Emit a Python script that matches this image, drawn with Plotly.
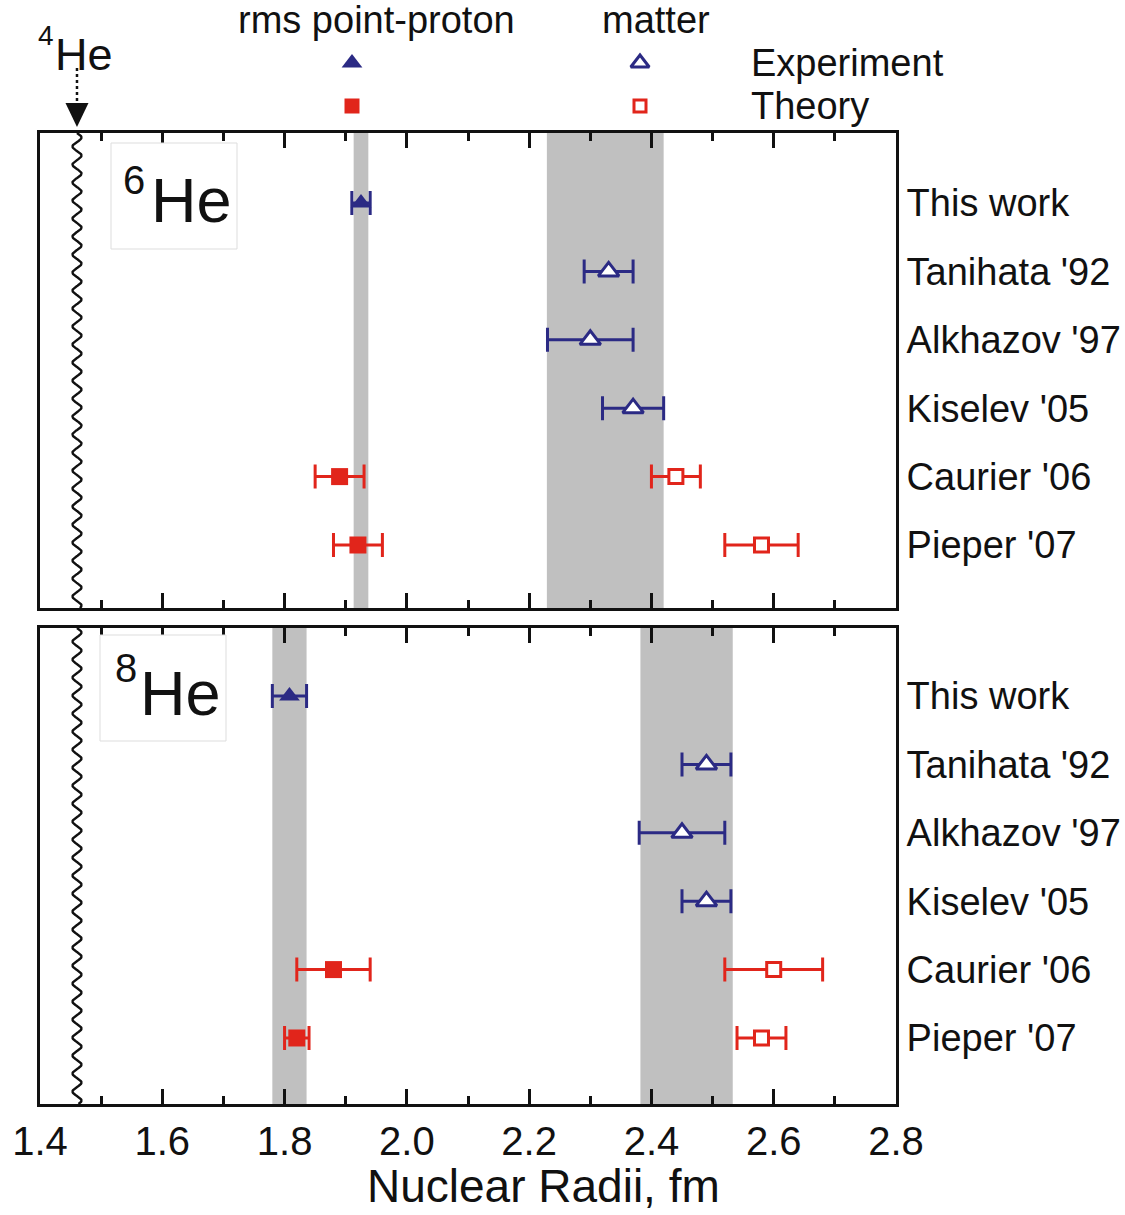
import numpy as np
import plotly.graph_objects as go

# ---------------- data ----------------
rows = ["This work", "Tanihata '92", "Alkhazov '97", "Kiselev '05", "Caurier '06", "Pieper '07"]

# 6He
he6_pp_exp_row = [0]
he6_pp_exp_val = [1.925]
he6_pp_exp_err = [0.015]
he6_m_exp_row = [1, 2, 3]
he6_m_exp_val = [2.33, 2.30, 2.37]
he6_m_exp_err = [0.04, 0.07, 0.05]
he6_pp_th_row = [4, 5]
he6_pp_th_val = [1.89, 1.92]
he6_pp_th_err = [0.04, 0.04]
he6_m_th_row = [4, 5]
he6_m_th_val = [2.44, 2.58]
he6_m_th_err = [0.04, 0.06]
he6_pp_band = [1.913, 1.937]
he6_m_band = [2.229, 2.420]

# 8He
he8_pp_exp_row = [0]
he8_pp_exp_val = [1.808]
he8_pp_exp_err = [0.028]
he8_m_exp_row = [1, 2, 3]
he8_m_exp_val = [2.49, 2.45, 2.49]
he8_m_exp_err = [0.04, 0.07, 0.04]
he8_pp_th_row = [4, 5]
he8_pp_th_val = [1.88, 1.82]
he8_pp_th_err = [0.06, 0.02]
he8_m_th_row = [4, 5]
he8_m_th_val = [2.60, 2.58]
he8_m_th_err = [0.08, 0.04]
he8_pp_band = [1.780, 1.836]
he8_m_band = [2.382, 2.533]

# 4He point-proton radius (axis break marker)
he4_radius = 1.4605

x_range = [1.4, 2.8]
x_ticks = [1.4, 1.6, 1.8, 2.0, 2.2, 2.4, 2.6, 2.8]

# ---------------- style ----------------
NAVY = "#2B2A84"
RED = "#E1251B"
BAND = "#C0C0C0"
INK = "#111111"
FONT = "Liberation Sans, Arial, sans-serif"

W, H = 1125, 1215
ML, MR, MT, MB = 40, 229, 0, 111
PW, PH = W - ML - MR, H - MT - MB


def paper_x(px):
    return (px - ML) / PW


def paper_y(py):
    return 1 - (py - MT) / PH


def data_x(px):
    return x_range[0] + (px - ML) / PW * (x_range[1] - x_range[0])


fig = go.Figure()

panels = [
    dict(xa="x", ya="y", yref="y domain",
         pp_exp=(he6_pp_exp_val, he6_pp_exp_row, he6_pp_exp_err),
         m_exp=(he6_m_exp_val, he6_m_exp_row, he6_m_exp_err),
         pp_th=(he6_pp_th_val, he6_pp_th_row, he6_pp_th_err),
         m_th=(he6_m_th_val, he6_m_th_row, he6_m_th_err),
         bands=[he6_pp_band, he6_m_band], yr=[5.921, -1.023]),
    dict(xa="x2", ya="y2", yref="y2 domain",
         pp_exp=(he8_pp_exp_val, he8_pp_exp_row, he8_pp_exp_err),
         m_exp=(he8_m_exp_val, he8_m_exp_row, he8_m_exp_err),
         pp_th=(he8_pp_th_val, he8_pp_th_row, he8_pp_th_err),
         m_th=(he8_m_th_val, he8_m_th_row, he8_m_th_err),
         bands=[he8_pp_band, he8_m_band], yr=[5.965, -0.994]),
]

series_style = {
    "pp_exp": dict(color=NAVY, marker=dict(symbol="triangle-up", size=18, color=NAVY,
                                           line=dict(width=0))),
    "m_exp": dict(color=NAVY, marker=dict(symbol="triangle-up", size=18, color="white",
                                          line=dict(width=3, color=NAVY))),
    "pp_th": dict(color=RED, marker=dict(symbol="square", size=17, color=RED,
                                         line=dict(width=0))),
    "m_th": dict(color=RED, marker=dict(symbol="square", size=14, color="white",
                                        line=dict(width=3, color=RED))),
}

for p in panels:
    # shaded bands
    for lo, hi in p["bands"]:
        fig.add_shape(type="rect", xref=p["xa"], yref=p["yref"], x0=lo, x1=hi, y0=0, y1=1,
                      fillcolor=BAND, line=dict(width=0), layer="below")
    # axis-break wavy line at the 4He radius
    yy = np.linspace(p["yr"][1], p["yr"][0], 900)
    period = 18 / 68.4
    amp = 4.5 / PW * (x_range[1] - x_range[0])
    xx = he4_radius + amp * np.sin(2 * np.pi * (yy - p["yr"][1]) / period)
    fig.add_trace(go.Scatter(x=xx, y=yy, mode="lines", line=dict(color=INK, width=2.4),
                             xaxis=p["xa"], yaxis=p["ya"], hoverinfo="skip",
                             showlegend=False))
    for key in ["pp_exp", "m_exp", "pp_th", "m_th"]:
        vals, rr, errs = p[key]
        st = series_style[key]
        fig.add_trace(go.Scatter(
            x=vals, y=rr, mode="markers", marker=st["marker"],
            error_x=dict(type="data", array=errs, color=st["color"], thickness=3, width=12),
            xaxis=p["xa"], yaxis=p["ya"], showlegend=False, cliponaxis=False))

# ---------------- key at the top ----------------
key_x_pp = data_x(352)
key_x_m = data_x(640)
fig.add_trace(go.Scatter(x=[key_x_pp], y=[63], mode="markers",
                         marker=dict(symbol="triangle-up", size=18, color=NAVY),
                         xaxis="x3", yaxis="y3", showlegend=False))
fig.add_trace(go.Scatter(x=[key_x_pp], y=[106], mode="markers",
                         marker=dict(symbol="square", size=15, color=RED),
                         xaxis="x3", yaxis="y3", showlegend=False))
fig.add_trace(go.Scatter(x=[key_x_m], y=[63], mode="markers",
                         marker=dict(symbol="triangle-up", size=16, color="white",
                                     line=dict(width=3, color=NAVY)),
                         xaxis="x3", yaxis="y3", showlegend=False))
fig.add_trace(go.Scatter(x=[key_x_m], y=[106], mode="markers",
                         marker=dict(symbol="square", size=12, color="white",
                                     line=dict(width=3, color=RED)),
                         xaxis="x3", yaxis="y3", showlegend=False))

# 4He pointer: dotted stem and arrow head
half_w = 11.5 / PW * (x_range[1] - x_range[0])
fig.add_shape(type="line", xref="x3", yref="y3", x0=he4_radius, x1=he4_radius, y0=68, y1=103,
              line=dict(color=INK, width=2.5, dash="dot"))
fig.add_shape(type="path", xref="x3", yref="y3",
              path=f"M {he4_radius - half_w},103 L {he4_radius + half_w},103 L {he4_radius},127 Z",
              fillcolor=INK, line=dict(width=0))

annotations = []


def txt(text, x, y, size, xanchor="center", yanchor="middle", xref="x3", yref="y3"):
    annotations.append(dict(text=text, x=x, y=y, xref=xref, yref=yref, xanchor=xanchor,
                            yanchor=yanchor, showarrow=False,
                            font=dict(family=FONT, size=size, color=INK)))


txt("rms point-proton", data_x(376), 20, 38)
txt("matter", data_x(656), 20, 38)
txt("Experiment", data_x(749), 63, 38, xanchor="left")
txt("Theory", data_x(749), 106, 38, xanchor="left")
txt("4", data_x(46), 35, 28)
txt("He", data_x(84), 54, 45)
txt("Nuclear Radii, fm", paper_x(543), paper_y(1214), 46, yanchor="bottom",
    xref="paper", yref="paper")

# isotope label boxes
for (bx0, by0, bx1, by1), sup, (sx, sy), (hx, hy) in [
    ((111, 143, 237, 249), "6", (134, 180), (191, 200)),
    ((100, 635, 226, 741), "8", (126, 668), (180, 693)),
]:
    fig.add_shape(type="rect", xref="paper", yref="paper",
                  x0=paper_x(bx0), x1=paper_x(bx1), y0=paper_y(by1), y1=paper_y(by0),
                  fillcolor="white", line=dict(color="#DDDDDD", width=1), layer="above")
    txt(sup, paper_x(sx), paper_y(sy), 40, xref="paper", yref="paper")
    txt("He", paper_x(hx), paper_y(hy), 63, xref="paper", yref="paper")

frame = dict(showline=True, linecolor=INK, linewidth=3, mirror=True, showgrid=False,
             zeroline=False)
xcommon = dict(frame, range=x_range, tickvals=x_ticks, tickformat=".1f", ticks="inside",
               ticklen=15, tickwidth=2.5, tickcolor=INK, mirror="ticks",
               minor=dict(dtick=0.1, tick0=1.4, ticks="inside", ticklen=8, tickwidth=2.5,
                          tickcolor=INK))
ycommon = dict(frame, side="right", tickvals=list(range(len(rows))), ticktext=rows,
               ticks="", tickfont=dict(family=FONT, size=38, color=INK),
               ticklabelstandoff=0)

fig.update_layout(
    width=W, height=H, autosize=False,
    margin=dict(l=ML, r=MR, t=MT, b=MB),
    paper_bgcolor="white", plot_bgcolor="white",
    font=dict(family=FONT, color=INK),
    xaxis=dict(xcommon, anchor="y", domain=[0, 1], showticklabels=False),
    yaxis=dict(ycommon, anchor="x", domain=[paper_y(608), paper_y(133)], range=panels[0]["yr"]),
    xaxis2=dict(xcommon, anchor="y2", domain=[0, 1], matches="x", showticklabels=True,
                tickfont=dict(family=FONT, size=40, color=INK)),
    yaxis2=dict(ycommon, anchor="x2", domain=[0, paper_y(628)], range=panels[1]["yr"]),
    xaxis3=dict(anchor="y3", domain=[0, 1], matches="x", visible=False),
    yaxis3=dict(anchor="x3", domain=[paper_y(133), 1], range=[133, 0], visible=False),
    annotations=annotations,
)

fig.write_html("out.html")
